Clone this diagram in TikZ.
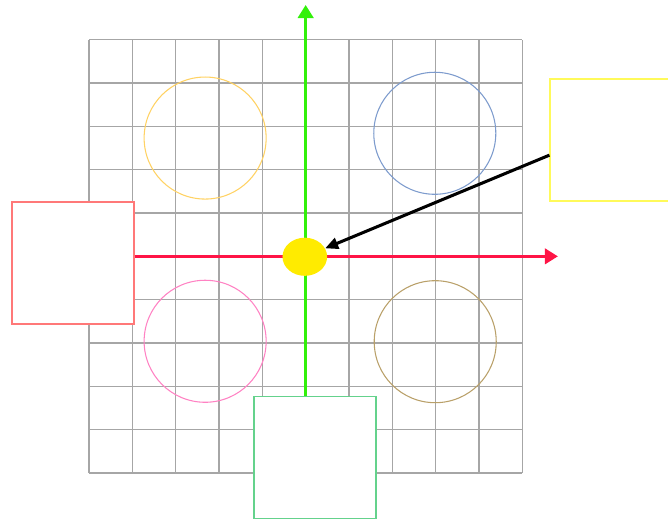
\documentclass[tikz,border=0pt]{standalone}
\usepackage{tikz}
\usetikzlibrary{arrows.meta,shapes.geometric}
\usepackage{xcolor}
\definecolor{myred}{RGB}{255,20,70}
\definecolor{mygreen}{RGB}{50,240,10}
\definecolor{myyellow}{RGB}{255,235,0}
\definecolor{boxred}{RGB}{255,120,120}
\definecolor{boxgreen}{RGB}{100,210,140}
\definecolor{boxyellow}{RGB}{255,250,90}
\definecolor{ringorange}{RGB}{255,210,100}
\definecolor{ringblue}{RGB}{125,155,205}
\definecolor{ringpink}{RGB}{255,130,195}
\definecolor{ringbrown}{RGB}{185,160,105}

\tikzset{
  gridline/.style={draw=gray!70, line width=0.85pt},
  ring/.style={draw, circle, line width=0.7pt, minimum size=2.816cm, inner sep=0pt},
  squarebox/.style={draw, rectangle, fill=white, line width=0.8pt, minimum width=2.815cm, minimum height=2.815cm, inner sep=0pt},
  axis/.style={line width=1.6pt, -{Triangle[length=0.3cm,width=0.36cm]}},
}

\begin{document}
\begin{tikzpicture}
  \useasboundingbox (-2.054,-1.177) rectangle (13.362,10.916);

  % grid
  \draw[gridline] (0,0) grid (10,10);

  % rings
  \node[ring, draw=ringorange] (ringa) at (2.68,7.73) {};
  \node[ring, draw=ringblue] (ringb) at (7.98,7.84) {};
  \node[ring, draw=ringpink] (ringc) at (2.68,3.04) {};
  \node[ring, draw=ringbrown] (ringd) at (7.99,3.03) {};

  % boxes
  \node[squarebox, draw=boxred] (redbox) at (-0.369,4.846) {};
  \node[squarebox, draw=boxgreen] (greenbox) at (5.215,0.357) {};
  \node[squarebox, draw=boxyellow] (yellowbox) at (12.047,7.685) {};

  % axes
  \coordinate (xtip) at (10.82,5);
  \coordinate (ytip) at (5,10.8);
  \draw[axis, myred] (redbox.east |- xtip) -- (xtip);
  \draw[axis, mygreen] (ytip |- greenbox.north) -- (ytip);

  % origin
  \node[draw=none, ellipse, fill=myyellow, minimum width=1.03cm, minimum height=0.88cm, inner sep=0pt] (dot) at (4.98,4.99) {};

  \draw[line width=2pt, -{Triangle[length=0.3cm,width=0.26cm]}] ([yshift=-0.35cm]yellowbox.west) -- (dot);
\end{tikzpicture}
\end{document}
